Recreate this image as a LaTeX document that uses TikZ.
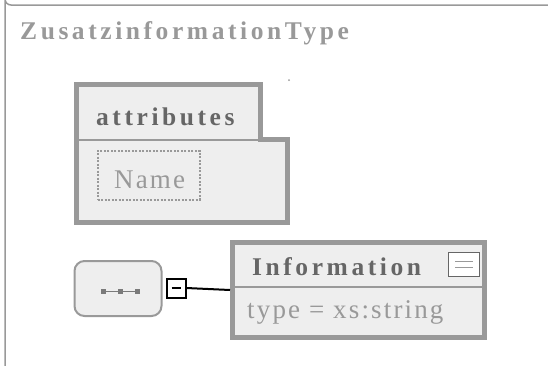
\documentclass[tikz,border=0pt]{standalone}
\usepackage{fontspec}
\setmainfont{Liberation Serif}
\newfontfamily\spaced[LetterSpace=14]{Liberation Serif}
\newfontfamily\lspaced[LetterSpace=8]{Liberation Serif}
\definecolor{frame}{HTML}{999999}
\definecolor{fillg}{HTML}{EEEEEE}
\definecolor{darkt}{HTML}{666666}
\definecolor{lightt}{HTML}{999999}
\begin{document}
\begin{tikzpicture}[x=1pt,y=-1pt,
  headfont/.style={font=\fontsize{25.5}{25.5}\selectfont\bfseries\spaced},
  bodyfont/.style={font=\fontsize{27}{27}\selectfont\lspaced},
  seqbox/.style={draw=frame,fill=fillg,line width=2pt,rounded corners=10pt,minimum width=87pt,minimum height=55pt,inner sep=0pt},
  minusbox/.style={draw=black,fill=white,line width=2pt,minimum width=19pt,minimum height=19pt,inner sep=0pt},
  elembox/.style={draw=frame,fill=fillg,line width=5pt,minimum width=252pt,minimum height=95pt,inner sep=0pt},
  conn/.style={draw=black,line width=2pt}]
\useasboundingbox (0,0) rectangle (548,365);
% outer frame
\draw[frame,line width=1.5pt] (552,5) -- (11,5) arc[start angle=90,end angle=180,radius=6] -- (5,370);
% title
\node[anchor=base west,inner sep=0pt,text=lightt,headfont] (title) at (20,39) {ZusatzinformationType};
% attributes group
\draw[frame,fill=fillg,line width=5pt] (76.5,84.5) -- (260.5,84.5) -- (260.5,139) -- (287.5,139) -- (287.5,222.5) -- (76.5,222.5) -- cycle;
\draw[frame,line width=2pt] (76.5,139.5) -- (287.5,139.5);
\fill[frame] (289,80) circle (1pt);
\node[anchor=base west,inner sep=0pt,text=darkt,headfont] (attr) at (96,125) {attributes};
\node[draw=frame,line width=2pt,dash pattern=on 2pt off 1.5pt,minimum width=102pt,minimum height=49pt,inner sep=0pt] (name) at (148.5,175) {};
\node[anchor=base west,inner sep=0pt,text=lightt,bodyfont] (nametxt) at (114,188) {Name};
% sequence
\node[seqbox] (seq) at (118,288.5) {};
\draw[frame!80!black,line width=1pt] (103,291) -- (137,291);
\foreach \i in {103,120,137} \fill[frame!80!black] (\i-2.5,288.5) rectangle (\i+2.5,293.5);
\node[minusbox] (minus) at (176,288) {};
\draw[black,line width=2pt] (171.5,288) -- (180.5,288);
% Information element
\node[elembox] (info) at (358.5,290) {};
\draw[frame,line width=2pt] (232.5,287) -- (484.5,287);
\node[anchor=base west,inner sep=0pt,text=darkt,headfont] (infotxt) at (252,275) {Information};
\node[draw=darkt,fill=white,line width=1.5pt,minimum width=31pt,minimum height=24pt,inner sep=0pt] (icon) at (464,264.5) {};
\draw[frame,line width=1.5pt] (455,261.5) -- (473,261.5) (455,267.5) -- (473,267.5);
\node[anchor=base west,inner sep=0pt,text=lightt,bodyfont] (typetxt) at (247,318) {type = xs:string};
\draw[conn] (minus.east) -- (info.west);
\end{tikzpicture}
\end{document}
